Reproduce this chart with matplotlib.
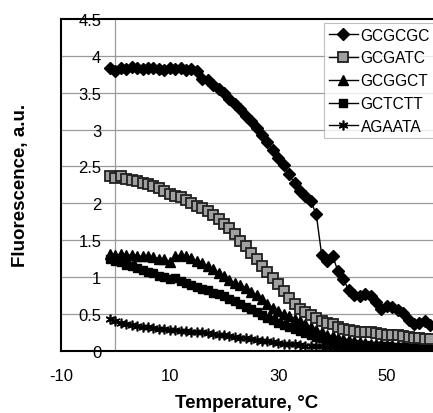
import numpy as np
import matplotlib as mpl
mpl.use('Agg')
import matplotlib.pyplot as plt

# temperature grid (deg C), one reading per degree
temp = list(range(-1, 59))

gcgcgc = [3.83, 3.80, 3.84, 3.82, 3.85, 3.83, 3.82, 3.84, 3.83, 3.82,
          3.81, 3.83, 3.82, 3.83, 3.81, 3.82, 3.79, 3.68, 3.67, 3.60,
          3.55, 3.50, 3.42, 3.35, 3.28, 3.19, 3.11, 3.02, 2.92, 2.83,
          2.72, 2.62, 2.52, 2.40, 2.27, 2.17, 2.10, 2.03, 1.85, 1.30,
          1.22, 1.29, 1.08, 0.97, 0.82, 0.76, 0.75, 0.77, 0.75, 0.66,
          0.57, 0.61, 0.59, 0.55, 0.51, 0.42, 0.37, 0.38, 0.41, 0.35]
gcgatc = [2.37, 2.34, 2.37, 2.33, 2.31, 2.30, 2.28, 2.26, 2.23, 2.21,
          2.17, 2.12, 2.10, 2.09, 2.05, 2.01, 1.97, 1.93, 1.89, 1.84,
          1.79, 1.72, 1.66, 1.58, 1.49, 1.42, 1.33, 1.25, 1.15, 1.07,
          0.99, 0.91, 0.81, 0.72, 0.63, 0.57, 0.53, 0.49, 0.45, 0.41,
          0.38, 0.36, 0.33, 0.30, 0.28, 0.27, 0.26, 0.26, 0.25, 0.24,
          0.23, 0.22, 0.22, 0.21, 0.20, 0.19, 0.18, 0.17, 0.16, 0.16]
gcggct = [1.32, 1.30, 1.31, 1.30, 1.30, 1.29, 1.28, 1.28, 1.27, 1.25,
          1.24, 1.21, 1.28, 1.30, 1.29, 1.26, 1.22, 1.19, 1.15, 1.11,
          1.06, 1.02, 0.96, 0.92, 0.89, 0.85, 0.80, 0.76, 0.70, 0.64,
          0.58, 0.54, 0.50, 0.47, 0.43, 0.40, 0.36, 0.32, 0.28, 0.25,
          0.22, 0.20, 0.18, 0.16, 0.15, 0.13, 0.12, 0.11, 0.10, 0.10,
          0.09, 0.08, 0.08, 0.07, 0.07, 0.06, 0.06, 0.05, 0.05, 0.05]
gctctt = [1.25, 1.22, 1.20, 1.17, 1.15, 1.12, 1.09, 1.07, 1.05, 1.02,
          1.00, 0.98, 0.99, 0.95, 0.92, 0.89, 0.86, 0.84, 0.82, 0.78,
          0.77, 0.74, 0.71, 0.67, 0.64, 0.60, 0.57, 0.53, 0.49, 0.45,
          0.42, 0.38, 0.35, 0.33, 0.30, 0.27, 0.24, 0.21, 0.19, 0.17,
          0.15, 0.13, 0.12, 0.11, 0.10, 0.09, 0.08, 0.08, 0.07, 0.07,
          0.06, 0.06, 0.05, 0.05, 0.05, 0.04, 0.04, 0.04, 0.04, 0.03]
agaata = [0.43, 0.40, 0.38, 0.37, 0.35, 0.34, 0.33, 0.32, 0.31, 0.30,
          0.30, 0.29, 0.28, 0.27, 0.27, 0.26, 0.25, 0.25, 0.24, 0.23,
          0.22, 0.21, 0.20, 0.19, 0.18, 0.17, 0.16, 0.15, 0.14, 0.13,
          0.12, 0.11, 0.10, 0.09, 0.09, 0.08, 0.07, 0.07, 0.06, 0.06,
          0.05, 0.05, 0.05, 0.04, 0.04, 0.04, 0.04, 0.04, 0.04, 0.03,
          0.03, 0.03, 0.03, 0.03, 0.03, 0.03, 0.03, 0.03, 0.03, 0.03]

names = ['GCGCGC', 'GCGATC', 'GCGGCT', 'GCTCTT', 'AGAATA']
yticks = [0, 0.5, 1, 1.5, 2, 2.5, 3, 3.5, 4, 4.5]
ytick_labels = ['0', '0.5', '1', '1.5', '2', '2.5', '3', '3.5', '4', '4.5']
xticks = [-10, 10, 30, 50]

plt.rcParams['font.family'] = ['Liberation Sans', 'DejaVu Sans']
plt.rcParams['axes.unicode_minus'] = False

fig = plt.figure(figsize=(4.33, 4.14), dpi=100)
ax = fig.add_axes([0.141, 0.150, 0.859, 0.802])

# grid lines first, data on top
for yv in yticks[1:-1]:
    ax.axhline(yv, color='#9a9a9a', lw=0.9, zorder=1)
ax.axvline(0, color='#9a9a9a', lw=0.9, zorder=1)

ax.plot(temp, gcgcgc, color='black', lw=1, marker='D', ms=6.3,
        mfc='black', mec='black', label=names[0], zorder=6)
ax.plot(temp, gcgatc, color='black', lw=1, marker='s', ms=6.5,
        mfc='#a0a0a0', mec='#202020', mew=1.3, label=names[1], zorder=5)
ax.plot(temp, gcggct, color='black', lw=1, marker='^', ms=6.5,
        mfc='black', mec='black', label=names[2], zorder=4)
ax.plot(temp, gctctt, color='black', lw=1, marker='s', ms=6,
        mfc='black', mec='black', label=names[3], zorder=3)
ax.plot(temp, agaata, color='black', lw=1, marker=(6, 2, 0), ms=7,
        mfc='black', mec='black', mew=1.2, label=names[4], zorder=2)

ax.set_xlim(-10, 58.5)
ax.set_ylim(0, 4.5)

ax.set_yticks(yticks)
ax.set_yticklabels(ytick_labels)
ax.set_xticks(xticks)
ax.tick_params(axis='y', length=0, pad=-29, labelsize=12)
ax.tick_params(axis='x', length=0, pad=12, labelsize=12)

for side in ['left', 'bottom', 'top']:
    ax.spines[side].set_linewidth(1.5)
    ax.spines[side].set_color('black')
ax.spines['right'].set_visible(False)

ax.set_xlabel('Temperature, °C', fontsize=13.5, fontweight='bold', labelpad=8)
ax.set_ylabel('Fluorescence, a.u.', fontsize=13.5, fontweight='bold')
ax.yaxis.set_label_coords(-0.085, 0.5)

leg = ax.legend(loc='upper left', bbox_to_anchor=(324 / 433, 1 - 24 / 414),
                bbox_transform=fig.transFigure, fontsize=11.2,
                handlelength=1.9, handletextpad=0.15, labelspacing=0.5,
                borderpad=0.3, borderaxespad=0, frameon=True, fancybox=False)
leg.get_frame().set_edgecolor('#b0b0b0')
leg.get_frame().set_linewidth(0.8)
leg.set_zorder(10)

plt.savefig('out.png', dpi=100)
